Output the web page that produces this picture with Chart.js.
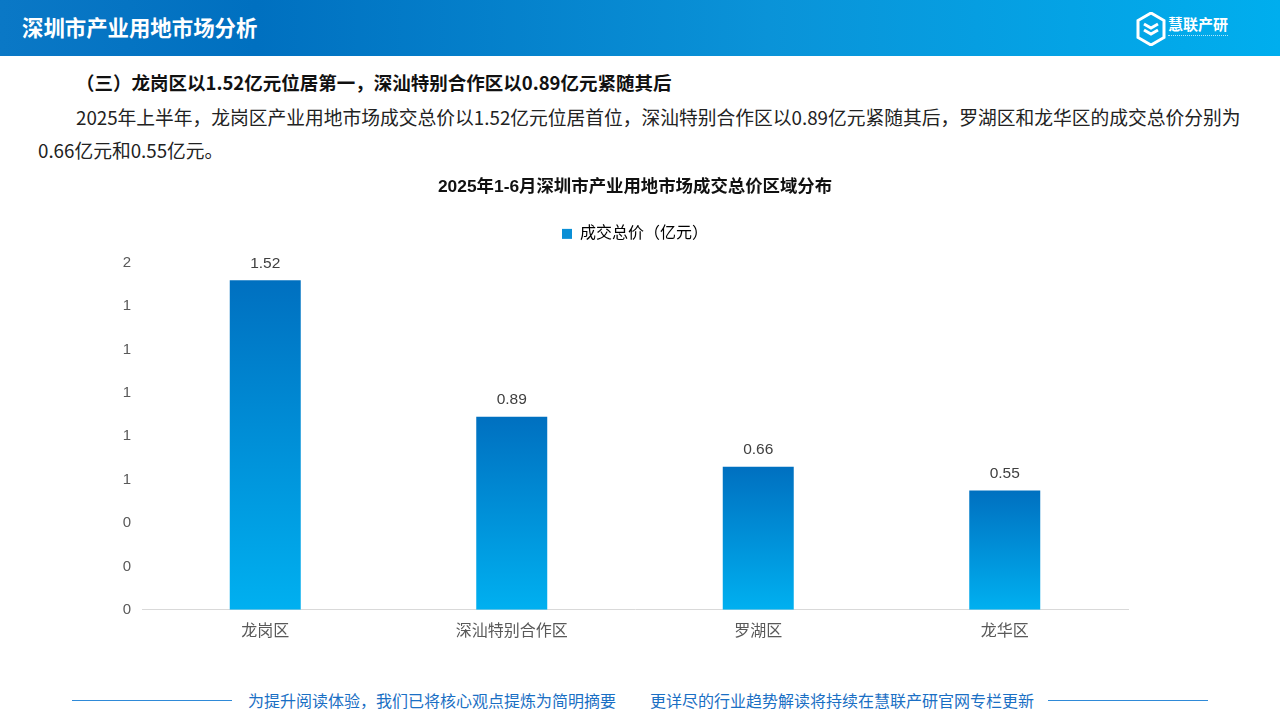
<!DOCTYPE html>
<html>
<head>
    <meta charset="UTF-8">
    <title>深圳市产业用地市场分析</title>
    <script src="https://cdn.jsdelivr.net/npm/chart.js@4.4.1/dist/chart.umd.min.js"></script>
    <style>
        html, body { margin: 0; padding: 0; background: #fff; }
        body { width: 1280px; height: 720px; position: relative; overflow: hidden;
               font-family: "Noto Sans CJK SC", "Liberation Sans", sans-serif; }
        .header { position: absolute; left: 0; top: 0; width: 1280px; height: 56px;
                  background: linear-gradient(90deg, #0a78c6 0%, #0070c0 20%, #0a93d8 60%, #00aeee 100%); }
        .header h1 { margin: 0; position: absolute; left: 22px; top: 12px; color: #fff;
                     font-size: 21.4px; font-weight: bold; line-height: 30px; }
        .logo { position: absolute; left: 1136px; top: 12px; width: 110px; height: 34px; }
        .logo .name { position: absolute; left: 32px; top: 2px; color: #fff; font-size: 15px; font-weight: bold; line-height: 20px; }
        .logo .sub { position: absolute; left: 32px; top: 23px; width: 60px; height: 2px; border-top: 1px dotted rgba(255,255,255,0.7); }
        .heading { position: absolute; left: 76px; top: 70px; font-size: 18.5px; font-weight: bold; color: #111; line-height: 24px; white-space: nowrap; }
        .para { position: absolute; left: 38px; top: 100px; font-size: 18.75px; color: #222; line-height: 33px; white-space: nowrap; }
        .para .indent { display: inline-block; width: 38px; }
        #wrap { position: absolute; left: 0; top: 160px; width: 1280px; height: 489px; }
        .footer { position: absolute; top: 688px; left: 0; width: 1280px; height: 24px; color: #1a6fc4; font-size: 16px; }
        .footer .line { position: absolute; top: 12px; height: 1px; background: #2f8ad8; }
        .footer span { position: absolute; top: 0; line-height: 24px; white-space: nowrap; }
    </style>
</head>
<body>
    <div class="header">
        <h1>深圳市产业用地市场分析</h1>
        <div class="logo">
            <svg width="30" height="34" viewBox="0 0 30 34">
                <path d="M15 1 L28 8.5 L28 25.5 L15 33 L2 25.5 L2 8.5 Z" fill="none" stroke="#fff" stroke-width="3"/>
                <path d="M8 12 L15 16 L22 12 M8 18 L15 22 L22 18" fill="none" stroke="#fff" stroke-width="3"/>
            </svg>
            <div class="name">慧联产研</div>
            <div class="sub"></div>
        </div>
    </div>

    <div class="heading">（三）龙岗区以1.52亿元位居第一，深汕特别合作区以0.89亿元紧随其后</div>
    <div class="para"><span class="indent"></span>2025年上半年，龙岗区产业用地市场成交总价以1.52亿元位居首位，深汕特别合作区以0.89亿元紧随其后，罗湖区和龙华区的成交总价分别为<br>0.66亿元和0.55亿元。</div>

    <div id="wrap"><canvas id="myChart"></canvas></div>

    <div class="footer">
        <div class="line" style="left:72px; width:160px;"></div>
        <span style="left:248px;">为提升阅读体验，我们已将核心观点提炼为简明摘要</span>
        <span style="left:650px;">更详尽的行业趋势解读将持续在慧联产研官网专栏更新</span>
        <div class="line" style="left:1048px; width:160px;"></div>
    </div>

    <script>
        var districts = ['龙岗区', '深汕特别合作区', '罗湖区', '龙华区'];
        var totalPrice = [1.52, 0.89, 0.66, 0.55];
        var seriesName = '成交总价（亿元）';
        var chartTitle = '2025年1-6月深圳市产业用地市场成交总价区域分布';

        var chartFont = '"Liberation Sans", "Noto Sans CJK SC", sans-serif';

        // each bar gets its own dark-top to light-bottom gradient
        function barGradient(ctx) {
            var chart = ctx.chart;
            if (!chart.chartArea || ctx.type !== 'data') return '#0a8fd6';
            var y = chart.scales.y;
            var top = y.getPixelForValue(ctx.parsed.y);
            var bottom = y.getPixelForValue(0);
            var g = chart.ctx.createLinearGradient(0, top, 0, bottom);
            g.addColorStop(0, '#0070c0');
            g.addColorStop(1, '#00b0f0');
            return g;
        }

        var valueLabels = {
            id: 'valueLabels',
            afterDatasetsDraw: function(chart) {
                var ctx = chart.ctx;
                var meta = chart.getDatasetMeta(0);
                ctx.save();
                ctx.font = '15.5px ' + chartFont;
                ctx.fillStyle = '#404040';
                ctx.textAlign = 'center';
                ctx.textBaseline = 'middle';
                meta.data.forEach(function(bar, i) {
                    ctx.fillText(totalPrice[i].toFixed(2), bar.x, bar.y - 17);
                });
                ctx.restore();
            }
        };

        var legendGap = {
            id: 'legendGap',
            beforeInit: function(chart) {
                var fit = chart.legend.fit;
                chart.legend.fit = function() {
                    fit.bind(chart.legend)();
                    this.height += 11;
                };
            }
        };

        new Chart('myChart', {
            type: 'bar',
            data: {
                labels: districts,
                datasets: [{
                    label: seriesName,
                    data: totalPrice,
                    backgroundColor: barGradient,
                    borderWidth: 0,
                    barPercentage: 0.288,
                    categoryPercentage: 1
                }]
            },
            options: {
                responsive: true,
                maintainAspectRatio: false,
                animation: false,
                // y axis takes no width (mirrored ticks pushed left) so title/legend centre over the plot
                layout: { padding: { left: 142, right: 152, top: 0, bottom: 4 } },
                plugins: {
                    title: {
                        display: true,
                        text: chartTitle,
                        color: '#111',
                        font: { family: chartFont, size: 17.4, weight: 'bold' },
                        padding: { top: 17, bottom: 18 }
                    },
                    legend: {
                        display: true,
                        labels: {
                            color: '#595959',
                            font: { family: chartFont, size: 16 },
                            boxWidth: 10,
                            boxHeight: 10,
                            generateLabels: function(chart) {
                                return [{ text: seriesName, fillStyle: '#0a8fd6', strokeStyle: '#0a8fd6', lineWidth: 0, datasetIndex: 0 }];
                            }
                        }
                    },
                    tooltip: { enabled: false }
                },
                scales: {
                    x: {
                        grid: { display: false },
                        border: { color: '#d9d9d9', width: 1 },
                        ticks: { color: '#595959', font: { family: chartFont, size: 16 }, padding: 4 }
                    },
                    y: {
                        min: 0,
                        max: 1.6,
                        afterFit: function(scale) { scale.width = 0; },
                        grid: { display: false },
                        border: { display: false },
                        ticks: {
                            stepSize: 0.2,
                            mirror: true,
                            crossAlign: 'far',
                            padding: -19.3,
                            color: '#595959',
                            font: { family: chartFont, size: 15 },
                            callback: function(v) { return Math.round(v).toFixed(0); }
                        }
                    }
                }
            },
            plugins: [valueLabels, legendGap]
        });
    </script>
</body>
</html>
